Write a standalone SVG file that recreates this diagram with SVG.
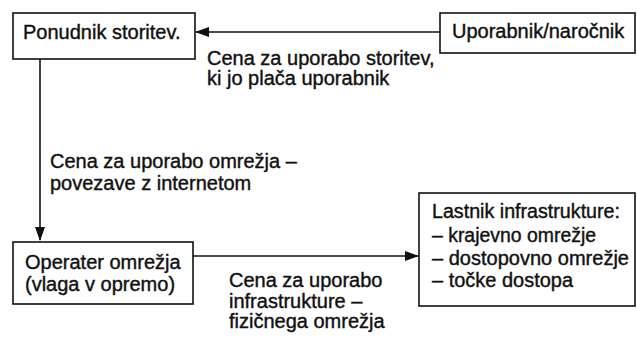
<svg xmlns="http://www.w3.org/2000/svg" width="637" height="337" viewBox="0 0 637 337">
<defs>
<style>
.box{fill:#fff;stroke:#111;stroke-width:1.6}
.t{font-family:"Liberation Sans",Arial,sans-serif;font-size:20px;fill:#111;stroke:#111;stroke-width:0.4}
.c{fill:none;stroke:#111;stroke-width:1.6}
</style>
<marker id="ah" markerWidth="14" markerHeight="10" refX="13" refY="5" orient="auto" markerUnits="userSpaceOnUse">
<path d="M0,0 L14,5 L0,10 Z" fill="#111"/>
</marker>
</defs>
<rect width="637" height="337" fill="#fff"/>
<g id="connectors">
<line class="c" x1="440" y1="32" x2="196" y2="32" marker-end="url(#ah)"/>
<line class="c" x1="40" y1="59" x2="40" y2="240" marker-end="url(#ah)"/>
<line class="c" x1="193" y1="256" x2="418" y2="256" marker-end="url(#ah)"/>
<text class="t" x="207" y="65">Cena za uporabo storitev,</text>
<text class="t" x="207" y="85">ki jo plača uporabnik</text>
<text class="t" x="50" y="168">Cena za uporabo omrežja –</text>
<text class="t" x="50" y="190">povezave z internetom</text>
<text class="t" x="229" y="287">Cena za uporabo</text>
<text class="t" x="229" y="308">infrastrukture –</text>
<text class="t" x="229" y="328">fizičnega omrežja</text>
</g>
<g id="ponudnik">
<rect class="box" x="13" y="13" width="182" height="46"/>
<text class="t" x="23" y="39">Ponudnik storitev.</text>
</g>
<g id="uporabnik">
<rect class="box" x="440" y="13" width="195" height="40"/>
<text class="t" x="452" y="38">Uporabnik/naročnik</text>
</g>
<g id="operater">
<rect class="box" x="13" y="242" width="180" height="62"/>
<text class="t" x="25" y="269">Operater omrežja</text>
<text class="t" x="25" y="291">(vlaga v opremo)</text>
</g>
<g id="lastnik">
<rect class="box" x="419" y="193" width="216" height="113"/>
<text class="t" x="432" y="218" textLength="188" lengthAdjust="spacingAndGlyphs">Lastnik infrastrukture:</text>
<text class="t" x="432" y="242" textLength="164" lengthAdjust="spacingAndGlyphs">– krajevno omrežje</text>
<text class="t" x="432" y="265" textLength="197" lengthAdjust="spacingAndGlyphs">– dostopovno omrežje</text>
<text class="t" x="432" y="287" textLength="141" lengthAdjust="spacingAndGlyphs">– točke dostopa</text>
</g>
</svg>
